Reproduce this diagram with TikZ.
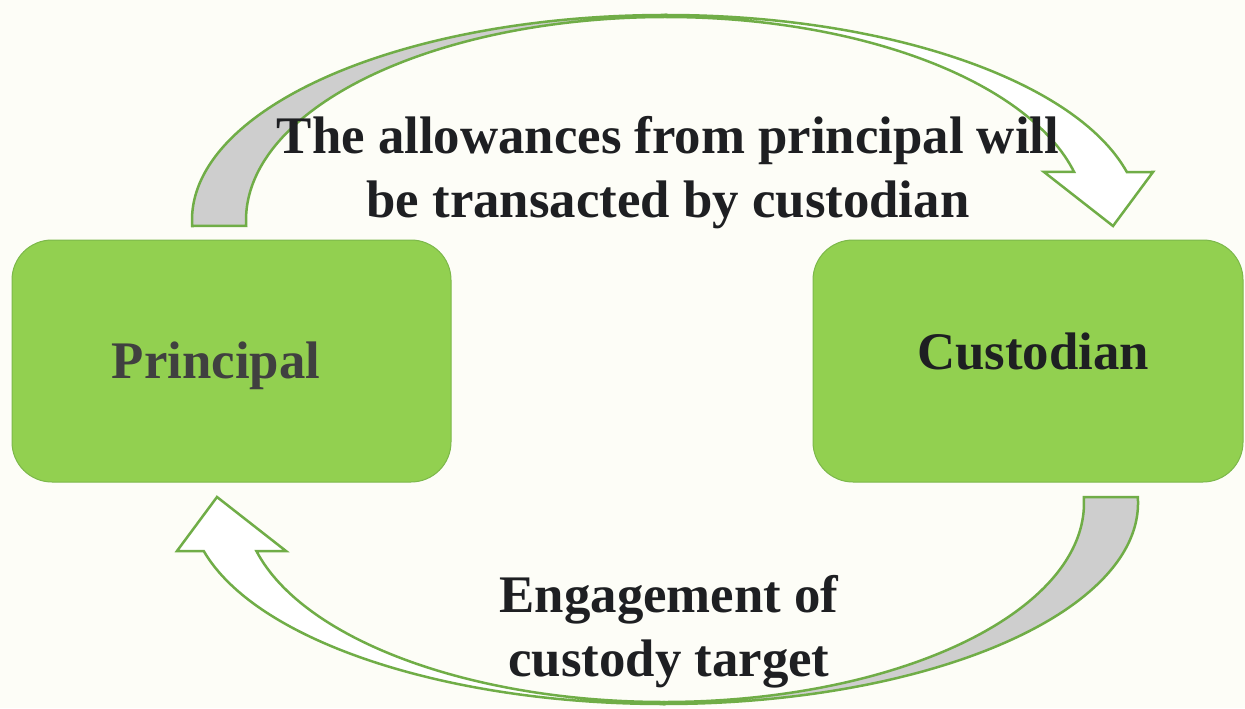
\documentclass[tikz,border=0pt]{standalone}
\usepackage{fontspec}
\setmainfont{Liberation Serif}
\definecolor{bg}{HTML}{FDFDF7}
\definecolor{boxfill}{HTML}{92D050}
\definecolor{boxline}{HTML}{7CB84A}
\definecolor{arrline}{HTML}{70AD47}
\definecolor{backfill}{HTML}{CECECE}
\definecolor{ink}{HTML}{1E1F22}
\definecolor{inkgray}{HTML}{404040}
\begin{document}
\begin{tikzpicture}[x=0.5pt,y=0.5pt,
  box/.style={draw=boxline, line width=0.5pt, fill=boxfill, rounded corners=20pt,
    minimum height=121pt, inner sep=0pt},
  boxtext/.style={font=\fontsize{26.4pt}{32pt}\selectfont\bfseries, anchor=base, inner sep=0pt},
  caption/.style={font=\fontsize{26.4pt}{32pt}\selectfont\bfseries, text=ink,
    align=center, anchor=base, inner sep=0pt},
  band/.style={draw=arrline, line width=1.25pt, line join=miter},
  backband/.style={band, fill=backfill},
  frontband/.style={band, fill=white}
]
\fill[bg] (0,0) rectangle (1245,708);
\useasboundingbox (0,0) rectangle (1245,708);

% boxes
\node[box, minimum width=219.5pt] (P) at (231.5,347) {};
\node[box, minimum width=215pt] (C) at (1028,347) {};
\node[boxtext, text=inkgray] (Plbl) at (216,330) {Principal};
\node[boxtext, text=ink] (Clbl) at (1033,339) {Custodian};

% top curved arrow (Principal -> Custodian)
\filldraw[backband] (192.2,482)
  arc[start angle=181.68, end angle=90, x radius=237pt, y radius=102.5pt]
  -- (666,691)
  arc[start angle=90, end angle=181.69, x radius=210pt, y radius=101.5pt]
  -- cycle;
\filldraw[frontband] (666,693)
  arc[start angle=90, end angle=13.54, x radius=237pt, y radius=102.5pt]
  -- (1153,536) -- (1113,482) -- (1044,536) -- (1074.1,536)
  arc[start angle=13.68, end angle=90, x radius=210pt, y radius=101.5pt]
  -- cycle;

% bottom curved arrow (Custodian -> Principal)
\filldraw[backband] (1137.8,211)
  arc[start angle=1.71, end angle=-90, x radius=237pt, y radius=100.5pt]
  -- (664,6)
  arc[start angle=-90, end angle=1.73, x radius=210pt, y radius=99.5pt]
  -- cycle;
\filldraw[frontband] (664,4)
  arc[start angle=270, end angle=193.82, x radius=237pt, y radius=100.5pt]
  -- (177,157) -- (217,211) -- (286,157) -- (256.4,157)
  arc[start angle=193.96, end angle=270, x radius=210pt, y radius=99.5pt]
  -- cycle;

% captions (anchor = baseline of the last line)
\node[caption] (top) at (668,491) {The allowances from principal will\\be transacted by custodian};
\node[caption] (bot) at (669,32) {Engagement of\\custody target};
\end{tikzpicture}
\end{document}
